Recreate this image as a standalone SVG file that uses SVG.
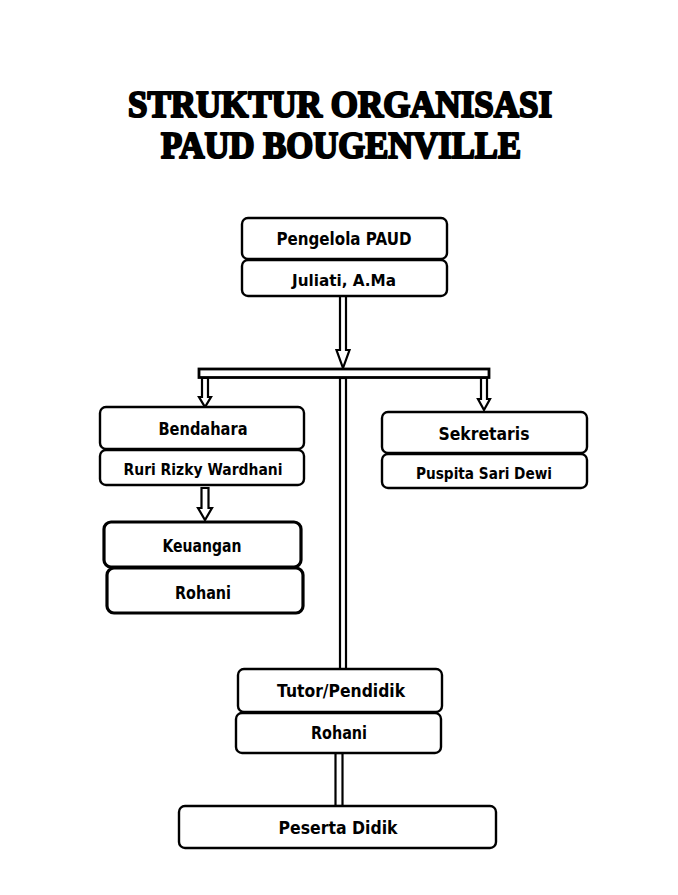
<svg xmlns="http://www.w3.org/2000/svg" width="678" height="895" viewBox="0 0 678 895">
<style>
.title{font-family:"Liberation Serif","DejaVu Serif",serif;font-weight:bold;font-size:37px;fill:#000;stroke:#000;stroke-width:2.2px;stroke-linejoin:round;text-anchor:middle}
.box{fill:#fff;stroke:#000;stroke-width:2.4}
.thick{fill:#fff;stroke:#000;stroke-width:3.2}
.lbl{font-family:"DejaVu Sans","Liberation Sans",sans-serif;font-weight:bold;font-size:17px;fill:#000;text-anchor:middle}
.sub{font-family:"DejaVu Sans","Liberation Sans",sans-serif;font-weight:bold;font-size:15px;fill:#000;text-anchor:middle}
.conn{fill:#fff;stroke:#000;stroke-width:2.2;stroke-linejoin:miter}
</style>
<rect width="678" height="895" fill="#fff"/>
<g id="title">
<text class="title" x="340" y="117" textLength="424" lengthAdjust="spacingAndGlyphs">STRUKTUR ORGANISASI</text>
<text class="title" x="341" y="158" textLength="360" lengthAdjust="spacingAndGlyphs">PAUD BOUGENVILLE</text>
</g>
<g id="connectors">
<rect class="conn" x="340" y="378" width="6" height="292"/>
<polygon class="conn" points="340,296 346,296 346,350 349.5,350 343,368 336.5,350 340,350"/>
<rect class="conn" x="199" y="369" width="290" height="8.5" style="stroke-width:2.8"/>
<polygon class="conn" points="202,378 208,378 208,397 211,397 205,407 199,397 202,397"/>
<polygon class="conn" points="481,378 487,378 487,399 490,399 484,410 478,399 481,399"/>
<polygon class="conn" points="201.5,488 208.5,488 208.5,508 212,508 205,520 198,508 201.5,508"/>
<rect class="conn" x="335.5" y="753" width="7" height="53"/>
</g>
<g id="pengelola">
<rect class="box" x="242" y="218" width="205" height="41" rx="6"/>
<text class="lbl" x="344" y="245" textLength="135" lengthAdjust="spacingAndGlyphs">Pengelola PAUD</text>
</g>
<g id="juliati">
<rect class="box" x="242" y="260" width="205" height="36" rx="6"/>
<text class="sub" x="344" y="286" textLength="104" lengthAdjust="spacingAndGlyphs">Juliati, A.Ma</text>
</g>
<g id="bendahara">
<rect class="box" x="100" y="407" width="204" height="42" rx="6"/>
<text class="lbl" x="203" y="435" textLength="89" lengthAdjust="spacingAndGlyphs">Bendahara</text>
</g>
<g id="ruri">
<rect class="box" x="100" y="450" width="204" height="35" rx="6"/>
<text class="sub" x="203" y="475" textLength="159" lengthAdjust="spacingAndGlyphs">Ruri Rizky Wardhani</text>
</g>
<g id="keuangan">
<rect class="thick" x="104" y="522" width="197" height="45" rx="7"/>
<text class="lbl" x="202" y="552" textLength="79" lengthAdjust="spacingAndGlyphs">Keuangan</text>
</g>
<g id="rohani1">
<rect class="thick" x="107" y="568" width="196" height="45" rx="7"/>
<text class="lbl" x="203" y="599" textLength="56" lengthAdjust="spacingAndGlyphs">Rohani</text>
</g>
<g id="sekretaris">
<rect class="box" x="382" y="412" width="205" height="41" rx="6"/>
<text class="lbl" x="484" y="440" textLength="91" lengthAdjust="spacingAndGlyphs">Sekretaris</text>
</g>
<g id="puspita">
<rect class="box" x="382" y="454" width="205" height="34" rx="6"/>
<text class="sub" x="484" y="479" textLength="136" lengthAdjust="spacingAndGlyphs">Puspita Sari Dewi</text>
</g>
<g id="tutor">
<rect class="box" x="238" y="669" width="204" height="43" rx="6"/>
<text class="lbl" x="341" y="697" textLength="128" lengthAdjust="spacingAndGlyphs">Tutor/Pendidik</text>
</g>
<g id="rohani2">
<rect class="box" x="236" y="713" width="205" height="40" rx="6"/>
<text class="lbl" x="339" y="739" textLength="56" lengthAdjust="spacingAndGlyphs">Rohani</text>
</g>
<g id="peserta">
<rect class="box" x="179" y="806" width="317" height="42" rx="6"/>
<text class="lbl" x="338" y="834" textLength="119" lengthAdjust="spacingAndGlyphs">Peserta Didik</text>
</g>
</svg>
